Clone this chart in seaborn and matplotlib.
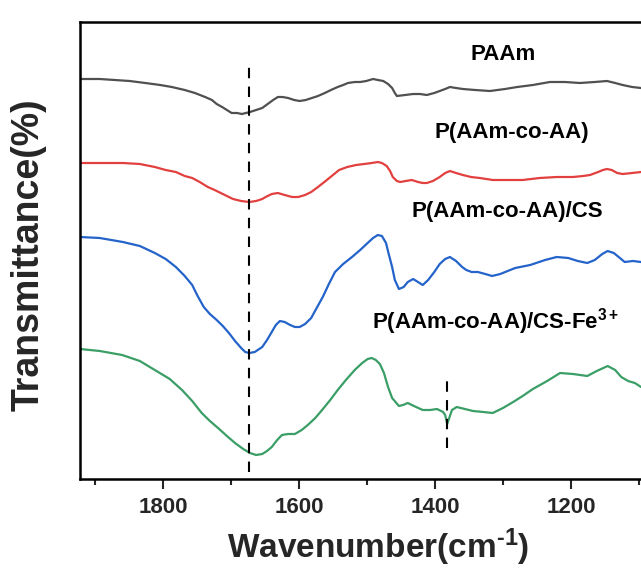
import matplotlib
matplotlib.use("Agg")
import matplotlib.pyplot as plt
from matplotlib.ticker import MultipleLocator
import seaborn as sns
import pandas as pd

# ---- data (wavenumber cm-1, transmittance a.u. with offsets) ----
paam_wn = [1922, 1893, 1871, 1849, 1826, 1804, 1787, 1768, 1753, 1738, 1728, 1721, 1713,
           1706, 1699, 1691, 1684, 1678, 1672, 1663, 1654, 1650, 1646, 1638, 1631, 1624,
           1616, 1607, 1599, 1590, 1581, 1572, 1562, 1553, 1543, 1535, 1528, 1518, 1510,
           1501, 1491, 1484, 1476, 1469, 1463, 1459, 1456, 1444, 1432, 1422, 1412, 1401,
           1393, 1385, 1378, 1369, 1359, 1341, 1319, 1297, 1279, 1256, 1231, 1209, 1187,
           1165, 1147, 1135, 1124, 1110, 1097]
paam_t = [400, 400, 399, 398, 396, 394, 392, 389, 386, 382, 379, 375, 372,
          369, 366, 366, 365, 366, 367, 369, 371, 373, 375, 379, 382, 382,
          381, 379, 378, 379, 381, 383, 386, 389, 392, 394, 396, 397, 397,
          398, 400, 399, 398, 395, 391, 386, 383, 384, 385, 385, 384, 386,
          388, 390, 392, 391, 390, 389, 388, 390, 392, 394, 397, 397, 396,
          397, 398, 396, 394, 392, 391]

coaa_wn = [1922, 1893, 1859, 1834, 1812, 1796, 1781, 1768, 1757, 1746, 1734, 1724, 1715,
           1706, 1697, 1685, 1673, 1663, 1654, 1649, 1640, 1631, 1621, 1610, 1601, 1591,
           1582, 1572, 1559, 1550, 1541, 1529, 1516, 1504, 1493, 1484, 1478, 1471, 1466,
           1462, 1456, 1451, 1443, 1434, 1425, 1418, 1412, 1403, 1393, 1385, 1378, 1369,
           1359, 1347, 1334, 1315, 1294, 1271, 1246, 1221, 1197, 1182, 1172, 1160, 1153,
           1147, 1140, 1132, 1124, 1110, 1097]
coaa_t = [316, 316, 316, 315, 312, 309, 307, 303, 301, 297, 292, 289, 286,
          283, 280, 278, 277, 278, 280, 282, 285, 286, 284, 282, 282, 284,
          287, 292, 299, 304, 309, 312, 314, 315, 316, 317, 316, 313, 308,
          302, 298, 297, 298, 299, 297, 296, 296, 298, 302, 306, 308, 306,
          304, 302, 301, 299, 299, 299, 301, 302, 302, 303, 304, 307, 309,
          310, 309, 306, 305, 306, 307]

cs_wn = [1922, 1893, 1859, 1834, 1812, 1796, 1781, 1768, 1757, 1749, 1740, 1731, 1721,
         1712, 1703, 1694, 1685, 1679, 1673, 1665, 1654, 1647, 1640, 1634, 1628, 1621,
         1613, 1606, 1599, 1591, 1582, 1574, 1565, 1556, 1547, 1535, 1522, 1510, 1499,
         1491, 1484, 1478, 1472, 1468, 1463, 1459, 1453, 1446, 1440, 1432, 1425, 1418,
         1410, 1401, 1393, 1385, 1378, 1369, 1360, 1354, 1346, 1337, 1326, 1316, 1304,
         1282, 1260, 1238, 1221, 1204, 1190, 1176, 1165, 1154, 1146, 1137, 1128, 1121,
         1109, 1097]
cs_t = [242, 241, 237, 233, 226, 220, 212, 203, 194, 183, 172, 165, 159,
        153, 146, 138, 131, 127, 126, 127, 132, 139, 147, 154, 158, 157,
        154, 152, 152, 155, 161, 171, 182, 195, 207, 215, 222, 229, 236,
        241, 244, 243, 236, 225, 212, 199, 190, 192, 197, 200, 197, 194,
        199, 207, 215, 220, 222, 218, 212, 209, 207, 207, 205, 203, 205,
        211, 214, 219, 222, 221, 218, 216, 219, 225, 228, 226, 221, 217,
        218, 217]

fe_wn = [1922, 1893, 1860, 1834, 1812, 1790, 1772, 1757, 1743, 1731, 1719, 1706, 1694,
         1682, 1672, 1663, 1654, 1647, 1640, 1632, 1625, 1616, 1606, 1596, 1587, 1576,
         1566, 1554, 1543, 1531, 1518, 1507, 1499, 1493, 1487, 1481, 1475, 1469, 1463,
         1453, 1447, 1440, 1431, 1418, 1407, 1397, 1388, 1385, 1382, 1379, 1375, 1368,
         1356, 1344, 1329, 1315, 1300, 1285, 1271, 1256, 1235, 1216, 1197, 1176, 1162,
         1146, 1135, 1126, 1116, 1106, 1097]
fe_t = [130, 128, 124, 118, 109, 100, 89, 78, 66, 58, 51, 43, 36,
        30, 26, 24, 25, 28, 32, 39, 44, 45, 45, 49, 54, 61,
        69, 79, 89, 99, 109, 116, 120, 121, 119, 115, 106, 92, 81,
        73, 74, 76, 73, 69, 69, 70, 67, 64, 55, 61, 69, 72,
        70, 68, 67, 66, 71, 77, 83, 90, 98, 106, 105, 103, 108,
        113, 109, 102, 98, 96, 92]

series_names = ["PAAm", "P(AAm-co-AA)", "P(AAm-co-AA)/CS", "P(AAm-co-AA)/CS-Fe$^{3+}$"]
series_colors = ["#505050", "#e2403f", "#2463c9", "#3a9e66"]

label_wn = [1300, 1287, 1294, 1493]
label_t = [424, 346, 267, 157]
label_ha = ["center", "center", "center", "left"]

peak_main = 1673
peak_short = 1382

x_ticks = [1800, 1600, 1400, 1200]

# ---- build long-form table ----
frames = []
for name, wn, t in zip(series_names,
                       [paam_wn, coaa_wn, cs_wn, fe_wn],
                       [paam_t, coaa_t, cs_t, fe_t]):
    frames.append(pd.DataFrame({"wn": wn, "t": t, "sample": name}))
df = pd.concat(frames, ignore_index=True)

sns.set_theme(style="ticks")
plt.rcParams["font.family"] = ["Liberation Sans", "DejaVu Sans"]
plt.rcParams["font.weight"] = "bold"
plt.rcParams["mathtext.fontset"] = "custom"
plt.rcParams["mathtext.rm"] = "Liberation Sans:bold"
plt.rcParams["mathtext.it"] = "Liberation Sans:bold"
plt.rcParams["mathtext.bf"] = "Liberation Sans:bold"
plt.rcParams["mathtext.default"] = "rm"

fig = plt.figure(figsize=(6.41, 5.70), dpi=100)
ax = fig.add_axes([80 / 641, (570 - 479) / 570, 561 / 641, 457 / 570])

sns.lineplot(data=df, x="wn", y="t", hue="sample", hue_order=series_names,
             palette=series_colors, estimator=None, sort=True, linewidth=1.6,
             legend=False, ax=ax)

ax.set_xlim(1922, 1097)
ax.set_ylim(0, 457)

ax.axvline(peak_main, ymin=(479 - 472) / 457, ymax=(479 - 67) / 457,
           color="black", linestyle=(0, (5, 4)), linewidth=1.5)
ax.axvline(peak_short, ymin=(479 - 448) / 457, ymax=(479 - 378) / 457,
           color="black", linestyle=(0, (5, 4)), linewidth=1.5)

for name, lx, ly, ha in zip(series_names, label_wn, label_t, label_ha):
    ax.text(lx, ly, name, ha=ha, va="center", fontsize=16, fontweight="bold",
            color="black")

ax.set_xticks(x_ticks)
ax.xaxis.set_minor_locator(MultipleLocator(100))
ax.set_yticks([])
ax.tick_params(axis="x", which="major", direction="out", length=7, width=1.5,
               labelsize=16, pad=6)
ax.tick_params(axis="x", which="minor", direction="out", length=4, width=1.5)
for lab in ax.get_xticklabels():
    lab.set_fontweight("bold")

for side in ["left", "bottom", "top"]:
    ax.spines[side].set_linewidth(1.8)
    ax.spines[side].set_color("black")
ax.spines["right"].set_visible(False)

ax.set_xlabel(r"Wavenumber(cm$^{\text{-}1}$)", fontsize=24, fontweight="bold")
ax.xaxis.set_label_coords(0.531, -0.105)
ax.set_ylabel("Transmittance(%)", fontsize=27, fontweight="bold")
ax.yaxis.set_label_coords(-0.06, 0.49)

fig.savefig("out.png", dpi=100, facecolor="white")
